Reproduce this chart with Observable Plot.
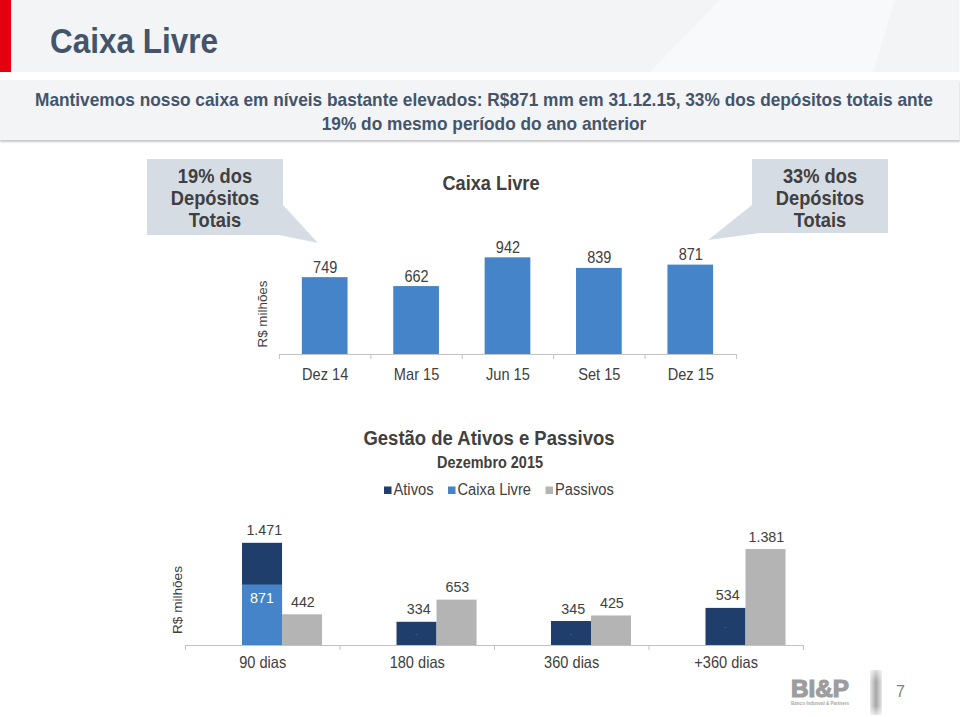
<!DOCTYPE html>
<html><head><meta charset="utf-8">
<script src="https://cdn.jsdelivr.net/npm/d3@7"></script>
<script src="https://cdn.jsdelivr.net/npm/@observablehq/plot@0.6"></script>
<style>
body{margin:0;background:#fff;font-family:"Liberation Sans",Arial,sans-serif;}
#page{position:relative;width:960px;height:717px;overflow:hidden;background:#fff;}
#inner{position:absolute;left:0;top:0;height:717px;transform-origin:0 0;}
.abs{position:absolute;}
</style></head><body>
<div id="page"><div id="inner">
  <div id="band1" class="abs" style="left:0;top:0;width:100%;height:72px;background:#f3f4f6"></div>
  <svg id="deco" class="abs" style="left:0;top:0" height="72"></svg>
  <div id="red" class="abs" style="left:0;top:0;height:72px;background:#e3000f"></div>
  <div class="abs" style="left:0;top:80px;width:100%;height:60px;background:#f3f4f6;box-shadow:0 2px 2px rgba(0,0,0,0.22)"></div>
  <div id="top" class="abs" style="left:0;top:150px"></div>
  <div id="bottom" class="abs" style="left:0;top:500px"></div>
  <svg id="overlay" class="abs" style="left:0;top:0" height="717"></svg>
</div></div>
<script>
// ---- data ----
const periods = ["Dez 14", "Mar 15", "Jun 15", "Set 15", "Dez 15"];
const caixaLivre = [749, 662, 942, 839, 871];
const buckets = ["90 dias", "180 dias", "360 dias", "+360 dias"];
const ativos = [1471, 334, 345, 534];
const caixaBucket = [871, 0, 0, 0];
const passivos = [442, 653, 425, 1381];
const seriesNames = ["Ativos", "Caixa Livre", "Passivos"];
const seriesColors = ["#1f3e6c", "#4584c9", "#b4b4b4"];
const titleText = "Caixa Livre";
const subtitleLines = ["Mantivemos nosso caixa em níveis bastante elevados: R$871 mm em 31.12.15, 33% dos depósitos totais ante", "19% do mesmo período do ano anterior"];
const calloutLeft = ["19% dos", "Depósitos", "Totais"];
const calloutRight = ["33% dos", "Depósitos", "Totais"];

// the slide is horizontally condensed: lay out at 960/S wide, then squeeze by S
const S = 0.92;
const X = v => v / S;   // page x -> inner x
const F = f => f / S;   // width-matched font size -> inner font size
const W = X(960);
const inner = document.getElementById("inner");
inner.style.width = W + "px";
inner.style.transform = `scaleX(${S})`;
document.getElementById("red").style.width = X(11) + "px";
document.getElementById("overlay").setAttribute("width", W);
document.getElementById("deco").setAttribute("width", W);

const FONT = "Liberation Sans, Arial, sans-serif";
const TXT = "#404040";
const AX = "#bfbfbf";
const fmt = d3.formatLocale({decimal: ",", thousands: ".", grouping: [3], currency: ["R$", ""]}).format(",d");

// header decoration (faint diagonal light panel)
d3.select("#deco").append("path")
  .attr("d", `M${X(650)},72L${X(720)},0L${X(895)},0L${X(873)},72Z`).attr("fill", "#f8f9fa");

// ---- top chart ----
const topData = periods.map((p, i) => ({i, p, v: caixaLivre[i]}));
const topPlot = Plot.plot({
  width: W, height: 240,
  marginLeft: X(279), marginRight: X(224), marginTop: 101.4, marginBottom: 36,
  style: {fontFamily: FONT, background: "transparent", overflow: "visible"},
  x: {domain: [-0.5, periods.length - 0.5], label: null},
  y: {domain: [0, 1000], axis: null, label: null},
  marks: [
    Plot.rect(topData, {x1: d => d.i - 0.25, x2: d => d.i + 0.25, y1: 0, y2: "v", fill: seriesColors[1]}),
    Plot.ruleY([0], {stroke: AX}),
    Plot.axisX({ticks: d3.range(periods.length + 1).map(k => k - 0.5), tickSize: 5, tickFormat: () => "", stroke: AX, label: null}),
    Plot.axisX({ticks: d3.range(periods.length), tickSize: 0, tickPadding: 14, tickFormat: k => periods[k], fontSize: F(14.6), fill: TXT, label: null}),
    Plot.text(topData, {x: d => d.i, y: "v", text: d => fmt(d.v), lineAnchor: "bottom", dy: -5, fontSize: F(14.5), fill: TXT})
  ]
});
document.getElementById("top").appendChild(topPlot);

// ---- bottom chart ----
const bData = buckets.map((b, i) => ({i, b, a: ativos[i], c: caixaBucket[i], p: passivos[i]}));
const aX1 = d => d.i - 0.131, aX2 = d => d.i + 0.128, pX2 = d => d.i + 0.387;
const bottomPlot = Plot.plot({
  width: W, height: 190,
  marginLeft: X(185), marginRight: X(157), marginTop: 40.8, marginBottom: 45,
  style: {fontFamily: FONT, background: "transparent", overflow: "visible"},
  x: {domain: [-0.5, buckets.length - 0.5], label: null},
  y: {domain: [0, 1500], axis: null, label: null},
  marks: [
    Plot.rect(bData, {x1: aX1, x2: aX2, y1: 0, y2: "a", fill: seriesColors[0]}),
    Plot.rect(bData.filter(d => d.c > 0), {x1: aX1, x2: aX2, y1: 0, y2: "c", fill: seriesColors[1]}),
    Plot.rect(bData, {x1: aX2, x2: pX2, y1: 0, y2: "p", fill: seriesColors[2]}),
    Plot.ruleY([0], {stroke: AX}),
    Plot.axisX({ticks: d3.range(buckets.length + 1).map(k => k - 0.5), tickSize: 5, tickFormat: () => "", stroke: AX, label: null}),
    Plot.axisX({ticks: d3.range(buckets.length), tickSize: 0, tickPadding: 11, tickFormat: k => buckets[k], fontSize: F(14.6), fill: TXT, label: null}),
    Plot.text(bData, {x: d => d.i + 0.01, y: "a", text: d => fmt(d.a), lineAnchor: "bottom", dy: -8, fontSize: F(14.3), fill: TXT}),
    Plot.text(bData, {x: d => d.i + 0.26, y: "p", text: d => fmt(d.p), lineAnchor: "bottom", dy: -8, fontSize: F(14.3), fill: TXT}),
    Plot.text(bData.filter(d => d.c > 0), {x: d => d.i - 0.005, y: "c", text: d => fmt(d.c), lineAnchor: "bottom", dy: 18, fontSize: F(14.3), fill: "#ffffff"}),
    Plot.text(bData.filter(d => d.c === 0), {x: d => d.i - 0.005, y: d => d.a / 2, text: () => "-", lineAnchor: "middle", fontSize: 10, fill: "#3c5c89"})
  ]
});
document.getElementById("bottom").appendChild(bottomPlot);

// ---- overlay annotations ----
const ov = d3.select("#overlay");
const defs = ov.append("defs");
const g = defs.append("linearGradient").attr("id", "barGrad").attr("x1", 0).attr("x2", 1).attr("y1", 0).attr("y2", 0);
g.append("stop").attr("offset", "0%").attr("stop-color", "#e6e6e6");
g.append("stop").attr("offset", "50%").attr("stop-color", "#a6a6a6");
g.append("stop").attr("offset", "100%").attr("stop-color", "#e6e6e6");
const gv = defs.append("linearGradient").attr("id", "barFade").attr("x1", 0).attr("x2", 0).attr("y1", 0).attr("y2", 1);
gv.append("stop").attr("offset", "0%").attr("stop-color", "#fff").attr("stop-opacity", 0.6);
gv.append("stop").attr("offset", "25%").attr("stop-color", "#fff").attr("stop-opacity", 0);
gv.append("stop").attr("offset", "80%").attr("stop-color", "#fff").attr("stop-opacity", 0);
gv.append("stop").attr("offset", "100%").attr("stop-color", "#fff").attr("stop-opacity", 0.7);

function txt(x, y, s, o = {}) {
  return ov.append("text").attr("x", x).attr("y", y).text(s)
    .attr("font-family", FONT).attr("font-size", o.size || 14).attr("font-weight", o.bold ? "bold" : "normal")
    .attr("fill", o.fill || TXT).attr("text-anchor", o.anchor || "start");
}

txt(X(50), 53, titleText, {size: F(31.5), bold: true, fill: "#44546a"});
subtitleLines.forEach((l, k) => txt(X(484), 106 + k * 24, l, {size: F(17.3), bold: true, fill: "#44546a", anchor: "middle"}));

// callouts
const CALL = "#d6dce4";
const path = pts => "M" + pts.map(([x, y]) => `${X(x)},${y}`).join("L") + "Z";
ov.append("path").attr("d", path([[147,159],[283,159],[283,205],[318,243],[279,235],[147,235]])).attr("fill", CALL);
ov.append("path").attr("d", path([[752,159],[888,159],[888,233],[760,233],[708,240],[752,205]])).attr("fill", CALL);
calloutLeft.forEach((l, k) => txt(X(215), 183 + k * 22, l, {size: F(18.3), bold: true, anchor: "middle"}));
calloutRight.forEach((l, k) => txt(X(820), 183 + k * 22, l, {size: F(18.3), bold: true, anchor: "middle"}));

// top chart title & y label
txt(X(491), 190, "Caixa Livre", {size: F(18.2), bold: true, anchor: "middle"});
txt(0, 0, "R$ milhões", {size: 13.4, anchor: "middle"}).attr("transform", `translate(${X(267)},314) rotate(-90)`);

// bottom chart titles
txt(X(489), 445, "Gestão de Ativos e Passivos", {size: F(18.5), bold: true, anchor: "middle"});
txt(X(490), 468, "Dezembro 2015", {size: F(14.45), bold: true, anchor: "middle"});
txt(0, 0, "R$ milhões", {size: 13.6, anchor: "middle"}).attr("transform", `translate(${X(181.5)},600) rotate(-90)`);

// legend
let lx = X(384);
seriesNames.forEach((n, k) => {
  ov.append("rect").attr("x", lx).attr("y", 486.5).attr("width", X(7.5)).attr("height", 7.5).attr("fill", seriesColors[k]);
  const t = txt(lx + X(9.5), 495, n, {size: F(14.7)});
  lx += X(9.5) + t.node().getComputedTextLength() + X(14.5);
});

// logo & page number
txt(X(791), 697.5, "BI&P", {size: 24, bold: true, fill: "#9d9d9d"}).attr("stroke", "#9d9d9d").attr("stroke-width", 1.2).attr("textLength", X(58)).attr("lengthAdjust", "spacingAndGlyphs");
txt(X(791), 705, "Banco Indusval & Partners", {size: 4.6, bold: true, fill: "#a8a8a8"}).attr("textLength", X(58)).attr("lengthAdjust", "spacingAndGlyphs");
ov.append("rect").attr("x", X(870)).attr("y", 670).attr("width", X(12)).attr("height", 45).attr("fill", "url(#barGrad)");
ov.append("rect").attr("x", X(870)).attr("y", 670).attr("width", X(12)).attr("height", 45).attr("fill", "url(#barFade)");
txt(X(896), 697.5, "7", {size: F(16), fill: "#7f7f7f"});
</script>
</body></html>
